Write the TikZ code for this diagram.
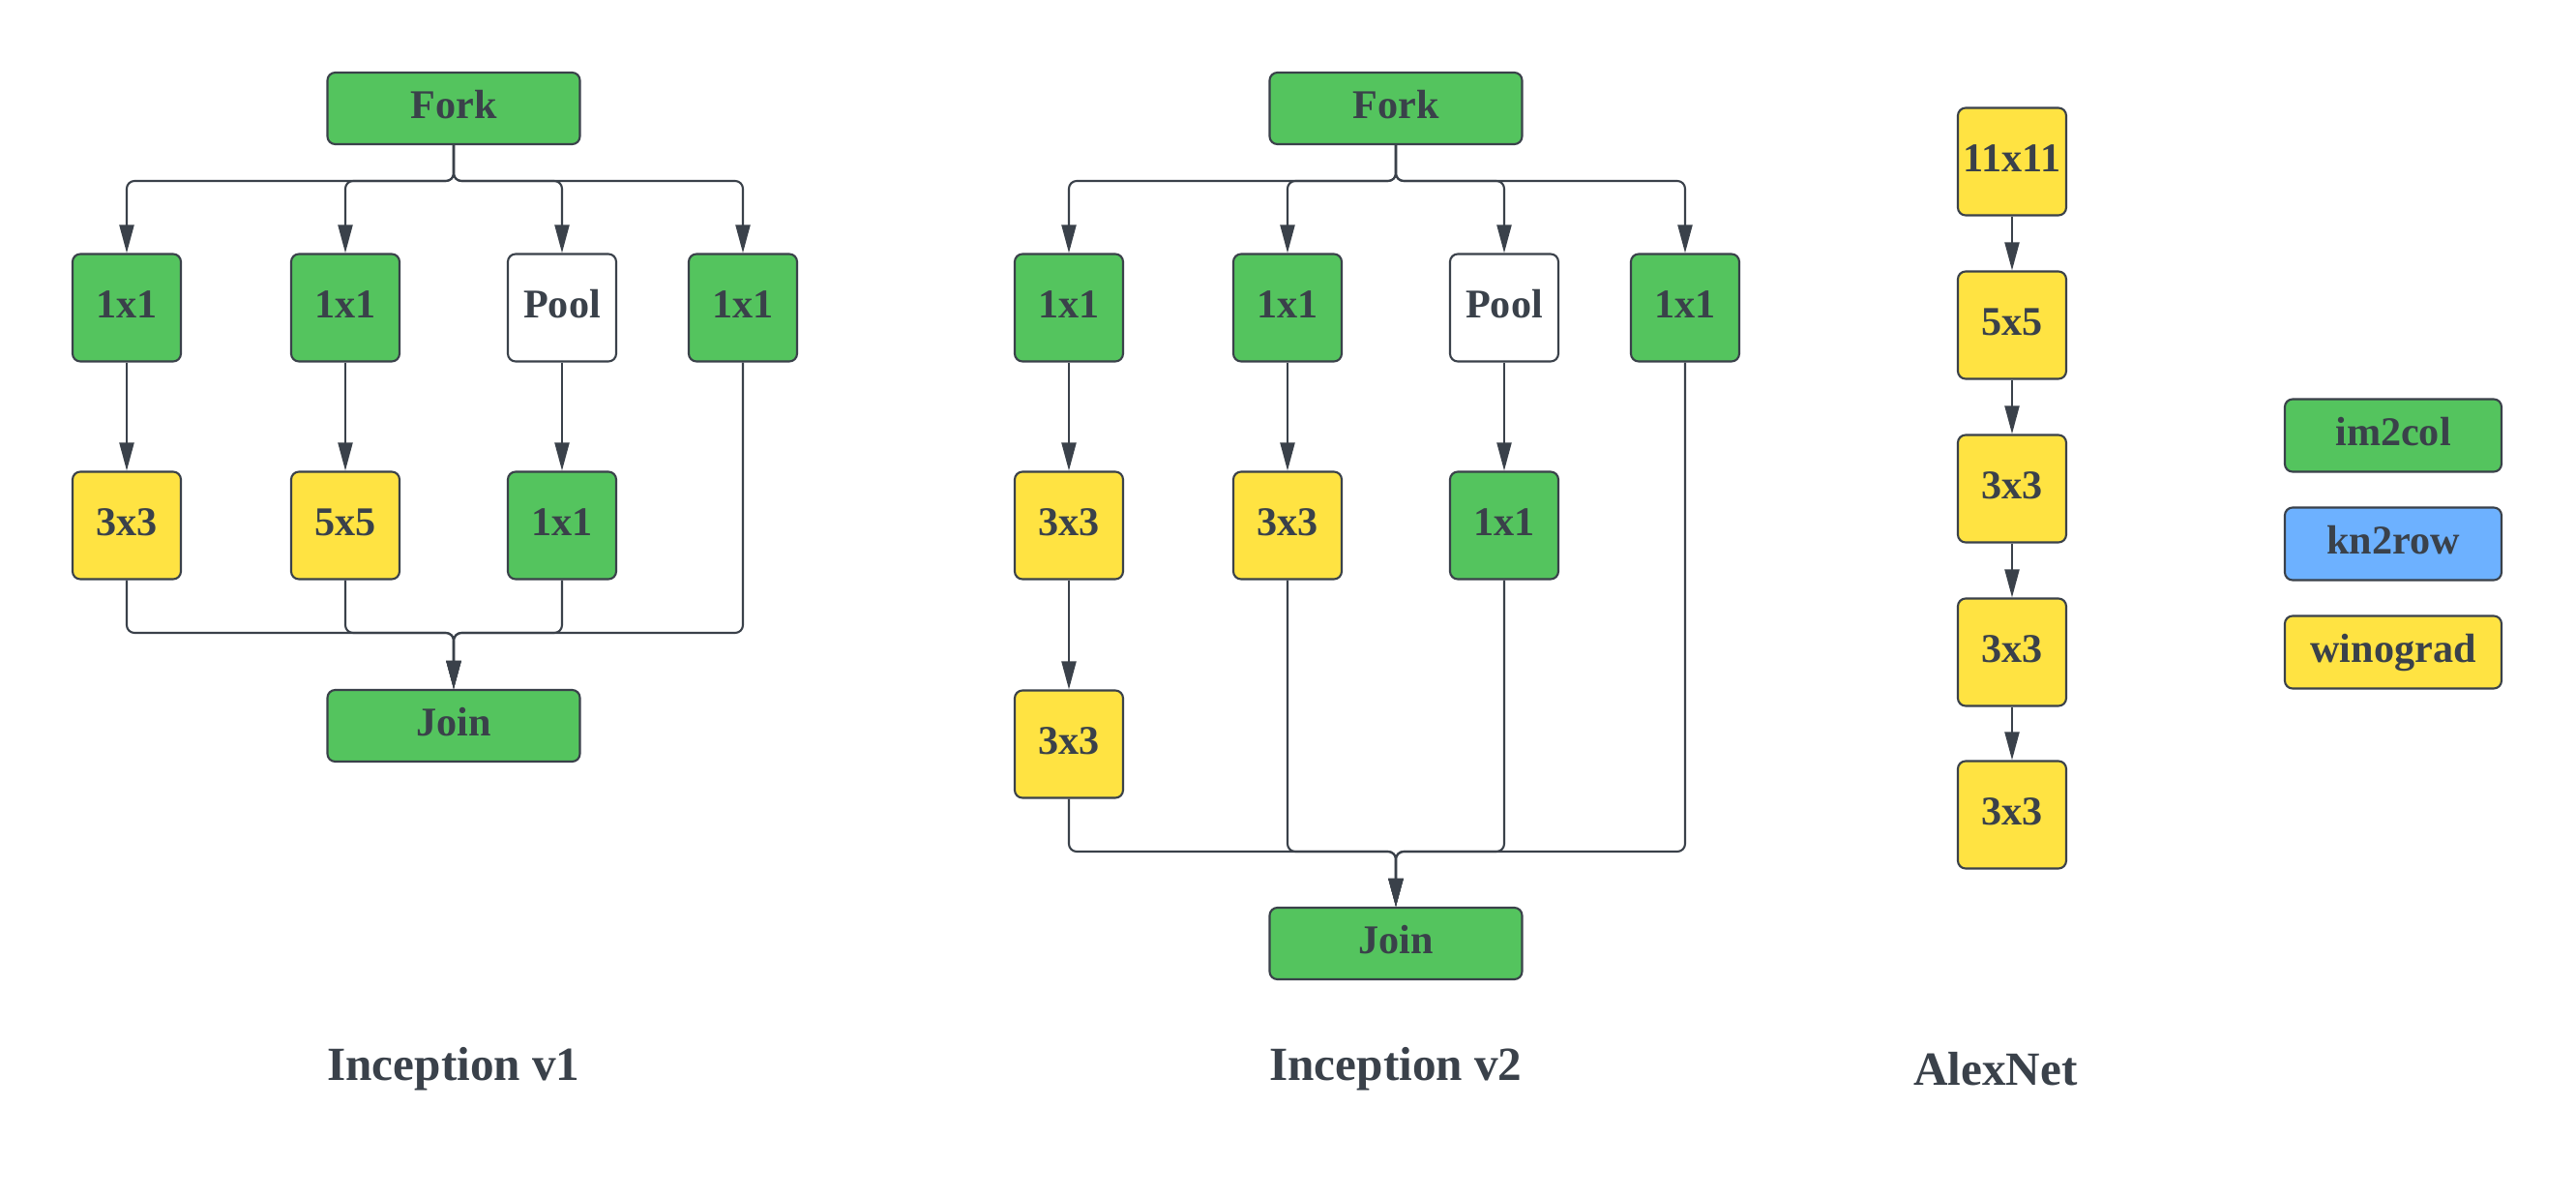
\documentclass[tikz,border=0pt]{standalone}
\usepackage{fontspec}
\setmainfont{Liberation Serif}
\usepackage{xcolor}
\usepackage{tikz}
\usetikzlibrary{positioning,arrows.meta}
\definecolor{SlateText}{HTML}{3A414A}
\definecolor{ColGreen}{HTML}{54C45E}
\definecolor{WinoYellow}{HTML}{FFE342}
\definecolor{RowBlue}{HTML}{6DB1FF}

\tikzset{
  opbox/.style={draw=SlateText,line width=0.6pt,rounded corners=0.08cm,text=SlateText,
    font=\bfseries\fontsize{12}{14}\selectfont,inner sep=0pt,
    text height=0.28cm,text depth=0.08cm,
    minimum width=1.12cm,minimum height=1.11cm},
  im2col/.style={opbox,fill=ColGreen},
  wino/.style={opbox,fill=WinoYellow},
  poolbox/.style={opbox,fill=white},
  forkbox/.style={opbox,fill=ColGreen,minimum width=2.61cm,minimum height=0.74cm},
  legbox/.style={opbox,minimum width=2.24cm,minimum height=0.75cm},
  netname/.style={text=SlateText,font=\bfseries\fontsize{14}{17}\selectfont},
  link/.style={draw=SlateText,line width=0.6pt,rounded corners=0.08cm,
    -{Triangle[length=0.29cm,width=0.15cm]}}
}

\begin{document}
\begin{tikzpicture}
  \useasboundingbox (0,0) rectangle (26.63,-12.38);

  % Inception v1
  \node[forkbox] (v1fork) at (4.69,-1.12) {Fork};
  \node[im2col]  (v1a1) at (1.31,-3.18) {1x1};
  \node[im2col]  (v1b1) at (3.57,-3.18) {1x1};
  \node[poolbox] (v1c1) at (5.81,-3.18) {Pool};
  \node[im2col]  (v1d1) at (7.68,-3.18) {1x1};
  \node[wino]    (v1a2) at (1.31,-5.43) {3x3};
  \node[wino]    (v1b2) at (3.57,-5.43) {5x5};
  \node[im2col]  (v1c2) at (5.81,-5.43) {1x1};
  \node[forkbox] (v1join) at (4.69,-7.50) {Join};
  \coordinate (v1split) at (4.69,-1.87);
  \coordinate (v1merge) at (4.69,-6.54);
  \foreach \b in {v1a1,v1b1,v1c1,v1d1}
    \draw[link] (v1fork.south) -- (v1split) -| (\b.north);
  \draw[link] (v1a1.south) -- (v1a2.north);
  \draw[link] (v1b1.south) -- (v1b2.north);
  \draw[link] (v1c1.south) -- (v1c2.north);
  \foreach \b in {v1a2,v1b2,v1c2,v1d1}
    \draw[link] (\b.south) |- (v1merge) -- (v1join.north);
  \node[netname] (v1name) at (4.69,-11.05) {Inception v1};

  % Inception v2
  \node[forkbox] (v2fork) at (14.43,-1.12) {Fork};
  \node[im2col]  (v2a1) at (11.05,-3.18) {1x1};
  \node[im2col]  (v2b1) at (13.31,-3.18) {1x1};
  \node[poolbox] (v2c1) at (15.55,-3.18) {Pool};
  \node[im2col]  (v2d1) at (17.42,-3.18) {1x1};
  \node[wino]    (v2a2) at (11.05,-5.43) {3x3};
  \node[wino]    (v2b2) at (13.31,-5.43) {3x3};
  \node[im2col]  (v2c2) at (15.55,-5.43) {1x1};
  \node[wino]    (v2a3) at (11.05,-7.69) {3x3};
  \node[forkbox] (v2join) at (14.43,-9.75) {Join};
  \coordinate (v2split) at (14.43,-1.87);
  \coordinate (v2merge) at (14.43,-8.80);
  \foreach \b in {v2a1,v2b1,v2c1,v2d1}
    \draw[link] (v2fork.south) -- (v2split) -| (\b.north);
  \draw[link] (v2a1.south) -- (v2a2.north);
  \draw[link] (v2a2.south) -- (v2a3.north);
  \draw[link] (v2b1.south) -- (v2b2.north);
  \draw[link] (v2c1.south) -- (v2c2.north);
  \foreach \b in {v2a3,v2b2,v2c2,v2d1}
    \draw[link] (\b.south) |- (v2merge) -- (v2join.north);
  \node[netname] (v2name) at (14.43,-11.05) {Inception v2};

  % AlexNet
  \node[wino] (alex1) at (20.80,-1.67) {11x11};
  \node[wino] (alex2) at (20.80,-3.36) {5x5};
  \node[wino] (alex3) at (20.80,-5.05) {3x3};
  \node[wino] (alex4) at (20.80,-6.74) {3x3};
  \node[wino] (alex5) at (20.80,-8.42) {3x3};
  \draw[link] (alex1.south) -- (alex2.north);
  \draw[link] (alex2.south) -- (alex3.north);
  \draw[link] (alex3.south) -- (alex4.north);
  \draw[link] (alex4.south) -- (alex5.north);
  \node[netname] (alexname) at (20.63,-11.05) {AlexNet};

  % legend
  \node[legbox,fill=ColGreen]   (legim) at (24.74,-4.50) {im2col};
  \node[legbox,fill=RowBlue]    (legkn) at (24.74,-5.62) {kn2row};
  \node[legbox,fill=WinoYellow] (legwi) at (24.74,-6.74) {winograd};
\end{tikzpicture}
\end{document}
